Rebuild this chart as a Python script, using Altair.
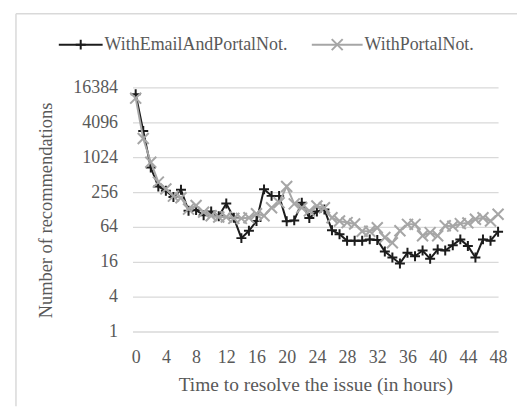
import altair as alt
import pandas as pd

# ---- data ----
hours = list(range(49))
email_portal = [12500, 2900, 680, 320, 270, 210, 280, 122, 125, 102,
                118, 98, 162, 92, 41, 55, 81, 285, 220, 220,
                80, 83, 168, 91, 118, 128, 56, 48, 37, 37,
                37, 39, 38, 24, 19, 15, 23, 20, 25, 18,
                26, 25, 31, 39, 30, 19, 39, 37, 53]
portal = [10700, 2150, 840, 380, 290, 218, 204, 130, 150, 115,
          100, 95, 95, 90, 90, 92, 108, 100, 137, 168,
          320, 160, 137, 121, 147, 137, 92, 81, 76, 72,
          54, 54, 62, 42, 34, 55, 71, 71, 45, 51,
          45, 67, 66, 73, 75, 87, 92, 81, 106]
series_names = ["WithEmailAndPortalNot.", "WithPortalNot."]
y_ticks = [1, 4, 16, 64, 256, 1024, 4096, 16384]
x_ticks = list(range(0, 49, 4))

# ---- styling ----
series_colors = ["#1c1c1c", "#a6a6a6"]
marker_paths = ["M-1,0L1,0M0,-1L0,1", "M-1,-1L1,1M-1,1L1,-1"]
marker_sizes = [100, 121]
FONT = "Liberation Serif, DejaVu Serif, serif"
TXT = "#595959"
FRAME = "#d9d9d9"

df = pd.DataFrame({
    "hour": hours * 2,
    "value": email_portal + portal,
    "series": [series_names[0]] * len(hours) + [series_names[1]] * len(hours),
})

x_enc = alt.X("hour:Q",
              scale=alt.Scale(domain=[-0.42, 48], nice=False, zero=False),
              axis=alt.Axis(values=x_ticks, title="Time to resolve the issue (in hours)",
                            grid=False, domain=False, ticks=False, labelPadding=17,
                            labelFlush=False, labelOverlap=False, titleFontSize=19.5,
                            titleBaseline="alphabetic", titleY=59))
y_enc = alt.Y("value:Q",
              scale=alt.Scale(type="log", base=2, domain=[1, 16384], nice=False),
              axis=alt.Axis(values=y_ticks, format="d", title="Number of recommendations",
                            grid=True, gridColor="#d9d9d9", gridWidth=1.3,
                            domain=False, ticks=False, labelPadding=15, labelOverlap=False,
                            titleFontSize=18.5,
                            titleBaseline="alphabetic", titleX=-81, titleY=123))
line_scale = alt.Scale(domain=series_names, range=series_colors)

base = alt.Chart(df)
layers = []
for i, name in enumerate(series_names):
    sub = base.transform_filter(alt.datum.series == name)
    layers.append(sub.mark_line(strokeWidth=2).encode(
        x=x_enc, y=y_enc,
        stroke=alt.Stroke("series:N", scale=line_scale, legend=None)))
    layers.append(sub.mark_point(filled=False, strokeWidth=2, opacity=1,
                                 shape=marker_paths[i], size=marker_sizes[i]).encode(
        x=x_enc, y=y_enc,
        stroke=alt.Stroke("series:N", scale=line_scale, legend=None)))

one = pd.DataFrame({"k": [0]})

# frame around the chart area (decoration)
frame_v = alt.Chart(one).mark_rule(color=FRAME, strokeWidth=1.5).encode(
    x=alt.value(-117), x2=alt.value(-117), y=alt.value(-74), y2=alt.value(320))
frame_h = alt.Chart(one).mark_rule(color=FRAME, strokeWidth=1.5).encode(
    x=alt.value(-117), x2=alt.value(386), y=alt.value(-74), y2=alt.value(-74))

# legend (line + marker + label), drawn above the plot
legend_line_x = [(-74, -30), (180, 231)]
legend_label_x = [-28, 233]
LEG_Y = -43
legend_layers = []
for i, name in enumerate(series_names):
    x1, x2 = legend_line_x[i]
    legend_layers.append(alt.Chart(one).mark_rule(color=series_colors[i], strokeWidth=2).encode(
        x=alt.value(x1), x2=alt.value(x2), y=alt.value(LEG_Y), y2=alt.value(LEG_Y)))
    legend_layers.append(alt.Chart(one).mark_point(
        filled=False, strokeWidth=2, opacity=1, color=series_colors[i],
        shape=marker_paths[i], size=marker_sizes[i]).encode(
        x=alt.value((x1 + x2) / 2), y=alt.value(LEG_Y)))
    legend_layers.append(alt.Chart(one).mark_text(
        align="left", baseline="middle", font=FONT, fontSize=18, color=TXT).encode(
        x=alt.value(legend_label_x[i]), y=alt.value(LEG_Y), text=alt.value(name)))

chart = alt.layer(frame_v, frame_h, *layers, *legend_layers).properties(
    width=367, height=245,
    padding={"left": 7, "top": 4, "right": 0, "bottom": 0},
).configure_axis(
    labelFont=FONT, titleFont=FONT, labelColor=TXT, titleColor=TXT,
    labelFontSize=18, titleFontSize=18, titleFontWeight="normal",
).configure_view(stroke=None)

chart.save("out.html", embed_options={"renderer": "svg", "actions": False})
